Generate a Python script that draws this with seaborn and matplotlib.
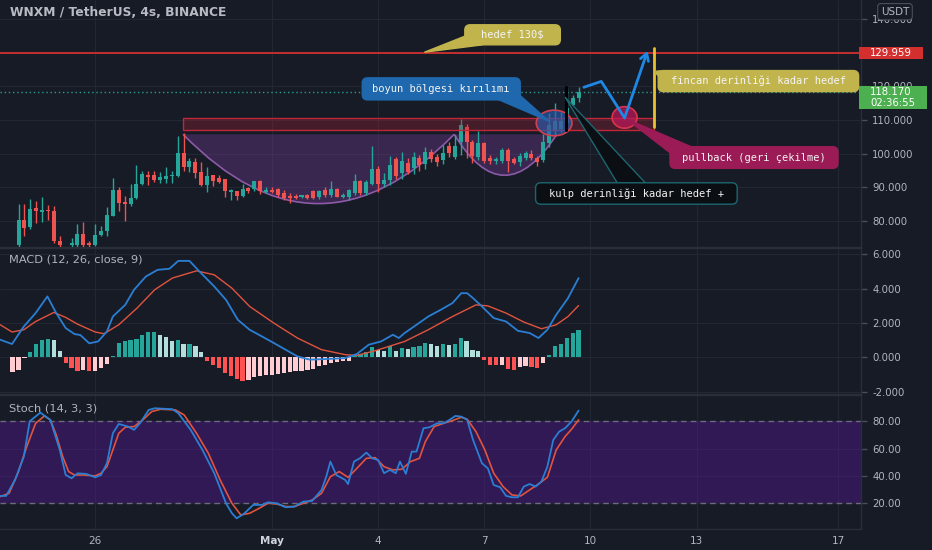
#!/usr/bin/env python3
"""WNXM/USDT 4h chart with cup-and-handle drawing, MACD and Stoch panels."""

import matplotlib
matplotlib.use("Agg")
import matplotlib.pyplot as plt
import matplotlib.transforms as mtransforms
import numpy as np
import pandas as pd
import seaborn as sns
from matplotlib.patches import Ellipse, FancyBboxPatch, PathPatch, Polygon, Rectangle
from matplotlib.path import Path
from matplotlib.ticker import FuncFormatter

# ---------------------------------------------------------------- data
START = "2021-04-23 20:00"  # first visible 4h candle

OPEN = [72.9, 80.4, 78.3, 83.8, 82.6, 83.4, 82.9, 74.2, 72.0, 72.8,
        73.0, 76.3, 73.5, 73.0, 75.8, 77.0, 81.6, 89.3, 85.8, 85.1,
        86.8, 91.0, 93.7, 93.7, 92.2, 92.4, 93.3, 93.5, 100.1, 96.0,
        97.4, 94.7, 90.8, 93.6, 92.7, 92.5, 88.5, 89.0, 87.5, 89.8,
        89.5, 91.8, 88.7, 89.3, 89.6, 88.3, 87.5, 87.5, 87.0, 87.6,
        88.8, 87.0, 89.3, 87.8, 89.5, 87.1, 87.1, 88.3, 91.8, 88.3,
        91.1, 95.4, 91.1, 92.3, 98.3, 94.2, 97.2, 95.7, 98.7, 96.8,
        100.5, 99.0, 98.0, 102.2, 99.0, 103.5, 108.0, 103.6, 99.1, 103.1,
        98.7, 97.7, 97.7, 101.1, 98.3, 97.4, 98.7, 100.0, 98.7, 98.2,
        103.1, 107.0, 107.2, 109.0, 114.4, 116.4]
HIGH = [85.1, 85.1, 86.5, 86.0, 87.1, 84.9, 84.6, 75.5, 72.2, 75.0,
        79.2, 79.6, 74.2, 79.0, 78.4, 84.1, 92.9, 90.0, 87.5, 91.1,
        96.7, 94.9, 94.9, 95.0, 94.6, 96.0, 95.0, 105.3, 106.1, 98.8,
        98.8, 97.4, 96.0, 93.7, 93.6, 92.5, 89.5, 89.0, 91.1, 90.1,
        92.0, 92.1, 90.0, 90.0, 89.9, 89.1, 88.3, 88.0, 87.8, 88.0,
        89.1, 89.3, 90.1, 91.8, 89.8, 88.2, 89.5, 94.0, 92.2, 92.3,
        102.3, 96.3, 94.4, 99.3, 99.0, 100.6, 98.8, 100.6, 99.6, 102.0,
        101.5, 100.0, 102.5, 103.5, 105.5, 110.3, 108.8, 104.0, 106.8, 103.5,
        99.6, 99.0, 101.6, 101.6, 99.0, 100.1, 100.8, 101.0, 99.4, 105.9,
        112.0, 114.9, 112.5, 119.5, 117.4, 119.9]
LOW = [71.5, 75.7, 77.7, 79.4, 79.7, 80.4, 73.5, 71.0, 70.0, 71.5,
       72.0, 72.0, 72.0, 72.5, 75.7, 75.7, 81.4, 82.9, 80.1, 84.4,
       86.6, 90.8, 90.8, 91.5, 91.3, 91.3, 91.3, 93.2, 94.9, 94.6,
       92.7, 90.5, 88.5, 90.3, 91.3, 87.1, 86.3, 86.3, 87.1, 88.3,
       88.8, 88.1, 88.3, 88.3, 87.1, 86.3, 85.5, 86.6, 86.8, 86.6,
       86.6, 86.6, 87.1, 87.0, 87.1, 86.8, 86.3, 87.8, 87.8, 87.8,
       90.8, 88.5, 90.1, 90.8, 92.5, 92.5, 94.0, 94.0, 94.9, 95.5,
       97.5, 96.3, 97.0, 99.0, 98.5, 99.6, 98.7, 97.2, 98.2, 97.2,
       96.8, 97.0, 97.2, 94.7, 96.8, 96.4, 98.0, 98.0, 96.4, 97.5,
       102.1, 105.6, 106.5, 107.5, 113.5, 115.4]
CLOSE = [80.4, 78.0, 83.7, 83.1, 83.4, 83.0, 74.0, 72.9, 71.0, 73.6,
         76.3, 73.0, 73.0, 76.0, 77.1, 81.9, 89.3, 85.5, 85.1, 86.8,
         91.1, 94.0, 93.2, 92.2, 93.2, 93.5, 93.6, 100.1, 95.9, 97.7,
         94.2, 90.8, 93.4, 92.0, 91.7, 88.8, 89.3, 87.3, 89.5, 89.0,
         91.8, 88.8, 89.2, 88.7, 87.8, 86.8, 86.9, 86.9, 87.6, 86.8,
         86.8, 89.0, 87.8, 89.5, 87.1, 87.8, 89.1, 91.8, 88.3, 91.5,
         95.4, 91.1, 92.3, 96.7, 93.5, 97.7, 94.7, 99.1, 96.7, 100.5,
         98.3, 97.5, 100.3, 100.2, 102.3, 108.5, 103.6, 99.3, 103.1, 97.7,
         97.7, 98.4, 101.1, 97.7, 97.2, 99.4, 100.3, 98.7, 97.4, 103.6,
         108.5, 109.8, 109.8, 113.5, 116.4, 118.17]

LAST_PRICE = 118.17
TARGET_PRICE = 129.959
COUNTDOWN = "02:36:55"

# MACD histogram, last value belongs to the last candle
MACD_HIST = [-0.85, -0.75, -0.05, 0.30, 0.80, 1.00, 1.10, 1.00, 0.35, -0.33,
             -0.62, -0.81, -0.72, -0.81, -0.81, -0.62, -0.39, 0.10, 0.83, 0.97,
             0.99, 1.07, 1.28, 1.47, 1.47, 1.32, 1.16, 0.97, 0.99, 0.78,
             0.80, 0.68, 0.31, -0.23, -0.43, -0.62, -0.91, -1.10, -1.26, -1.40,
             -1.30, -1.16, -1.07, -1.05, -1.00, -0.97, -0.91, -0.87, -0.81, -0.78,
             -0.72, -0.66, -0.52, -0.43, -0.33, -0.27, -0.23, -0.19, 0.06, 0.19,
             0.31, 0.58, 0.45, 0.39, 0.64, 0.35, 0.54, 0.50, 0.58, 0.64,
             0.83, 0.78, 0.64, 0.78, 0.70, 0.78, 1.12, 0.93, 0.45, 0.39,
             -0.14, -0.43, -0.47, -0.47, -0.66, -0.72, -0.58, -0.52, -0.58, -0.62,
             -0.33, 0.16, 0.64, 0.80, 1.12, 1.41, 1.61]

MACD_X = [-3.1, -1.1, 0.9, 2.9, 4.9, 6.4, 8.0, 9.5, 10.5, 12.0,
          13.5, 15.0, 16.0, 18.1, 19.6, 21.6, 23.6, 25.6, 27.1, 29.0,
          30.7, 33.2, 35.2, 37.2, 39.2, 41.3, 43.3, 45.3, 47.3, 49.4,
          52.4, 55.4, 57.4, 59.4, 61.5, 63.5, 64.5, 65.5, 67.5, 69.5,
          71.6, 73.6, 75.1, 76.1, 77.1, 78.6, 80.6, 82.7, 84.7, 86.7,
          88.2, 89.7, 91.2, 93.2, 95.0]
MACD_Y = [1.03, 0.78, 1.80, 2.58, 3.55, 2.58, 1.71, 1.36, 1.30, 0.82,
          0.93, 1.51, 2.38, 3.06, 3.94, 4.71, 5.10, 5.16, 5.62, 5.62,
          5.00, 4.13, 3.35, 2.19, 1.61, 1.22, 0.84, 0.45, 0.06, -0.13,
          -0.09, -0.04, 0.20, 0.74, 0.93, 1.32, 1.13, 1.42, 1.90, 2.38,
          2.77, 3.16, 3.74, 3.74, 3.45, 2.97, 2.29, 2.09, 1.55, 1.42,
          1.13, 1.61, 2.48, 3.45, 4.62]
SIGNAL_X = [-3.1, -1.1, 0.9, 2.9, 6.0, 8.0, 10.0, 13.0, 14.5, 17.0,
            20.1, 23.1, 26.1, 30.2, 33.2, 36.2, 39.2, 43.3, 47.3, 51.4,
            55.4, 57.4, 60.5, 65.5, 69.5, 73.6, 77.6, 79.6, 82.7, 85.7,
            88.7, 91.2, 93.2, 95.0]
SIGNAL_Y = [1.90, 1.48, 1.61, 2.09, 2.62, 2.33, 1.94, 1.48, 1.38, 1.90,
            2.87, 3.94, 4.62, 5.04, 4.81, 4.03, 2.97, 2.00, 1.13, 0.45,
            0.16, 0.12, 0.39, 0.93, 1.61, 2.38, 3.06, 3.00, 2.58, 2.06,
            1.67, 1.90, 2.38, 3.02]

K_X = [-3.1, -2.1, -0.6, 0.9, 1.9, 3.7, 5.4, 7.0, 8.0, 9.0,
       10.0, 11.5, 13.0, 14.0, 15.0, 16.0, 17.0, 18.6, 19.6, 20.6,
       22.1, 23.1, 26.1, 27.1, 29.2, 31.2, 33.2, 35.2, 36.2, 37.0,
       38.2, 39.8, 41.3, 42.3, 43.8, 45.3, 46.8, 48.3, 49.8, 51.4,
       52.2, 52.9, 53.9, 55.4, 55.9, 56.9, 57.9, 59.0, 60.0, 61.0,
       62.0, 63.0, 64.0, 64.7, 65.7, 66.7, 67.5, 68.7, 69.7, 71.0,
       72.1, 73.1, 74.1, 75.1, 76.1, 77.1, 78.6, 79.6, 80.6, 81.7,
       82.7, 83.7, 84.7, 85.7, 86.7, 87.7, 88.7, 89.7, 90.7, 91.7,
       92.7, 93.8, 95.0]
K_Y = [25.4, 25.4, 37.1, 54.1, 80.0, 86.3, 81.0, 59.0, 40.7, 38.3,
       41.9, 41.5, 39.0, 40.7, 49.3, 71.2, 78.0, 76.1, 73.7, 78.5,
       88.3, 89.5, 88.8, 85.9, 73.7, 59.0, 42.0, 20.0, 12.7, 9.0,
       12.2, 18.8, 18.8, 20.7, 20.0, 17.1, 17.6, 21.2, 21.7, 29.8,
       39.5, 50.5, 40.7, 37.1, 34.1, 50.5, 52.9, 57.1, 52.9, 51.7,
       42.0, 44.4, 42.0, 50.5, 41.5, 57.8, 57.8, 74.9, 75.6, 78.5,
       78.5, 81.0, 83.9, 83.4, 81.0, 66.3, 49.3, 45.6, 33.4, 31.7,
       25.4, 24.4, 24.4, 32.2, 34.1, 32.2, 35.9, 46.8, 66.3, 72.4,
       74.9, 79.8, 87.8]
D_X = [-3.1, -1.6, -0.1, 1.4, 2.9, 4.4, 5.4, 6.4, 7.5, 8.5,
       9.5, 11.0, 13.0, 14.0, 15.0, 16.0, 17.0, 18.1, 19.6, 21.1,
       22.6, 24.1, 26.6, 28.1, 30.2, 32.2, 34.2, 36.2, 37.7, 39.2,
       40.8, 42.3, 43.8, 45.3, 46.8, 48.3, 49.8, 51.4, 52.9, 54.4,
       55.9, 57.4, 59.0, 60.5, 62.0, 63.5, 65.0, 66.5, 68.0, 69.0,
       70.5, 72.1, 73.6, 75.1, 76.1, 77.6, 79.1, 80.6, 82.2, 83.7,
       85.2, 86.7, 88.2, 89.7, 91.2, 92.7, 93.8, 95.0]
D_Y = [24.9, 27.3, 42.0, 61.5, 78.5, 83.9, 81.0, 70.0, 54.1, 43.2,
       40.7, 40.7, 40.0, 42.0, 46.8, 59.0, 71.2, 75.6, 76.1, 81.0,
       87.1, 88.8, 88.3, 84.6, 71.2, 56.6, 37.1, 20.0, 11.5, 12.7,
       16.3, 20.0, 19.5, 17.6, 17.6, 20.0, 22.4, 27.3, 39.5, 43.2,
       39.0, 45.6, 52.9, 53.4, 46.8, 44.4, 44.9, 50.5, 52.9, 65.1,
       76.1, 78.5, 80.5, 82.9, 81.5, 72.4, 59.0, 42.0, 32.2, 26.1,
       25.4, 29.8, 34.1, 39.0, 59.0, 68.8, 74.1, 81.0]

DAY_TICKS = ["2021-04-26", "2021-05-01", "2021-05-04", "2021-05-07",
             "2021-05-10", "2021-05-13", "2021-05-17"]
DAY_LABELS = ["26", "May", "4", "7", "10", "13", "17"]
PRICE_TICKS = [80, 90, 100, 110, 120, 130, 140]
MACD_TICKS = [-2, 0, 2, 4, 6]
STOCH_TICKS = [20, 40, 60, 80]

# ---------------------------------------------------------------- drawings (bar index, price)
NECK_ZONE = (27.9, 107.8, 106.9, 110.6)          # x0, x1, y0, y1
CUP = [(27.9, 105.75), (50.85, 64.6), (73.9, 105.75)]   # quadratic bezier
HANDLE = [(73.9, 105.75), (82.3, 81.4), (91.3, 105.75)]
BREAK_CIRCLE = (90.85, 109.1, 6.06, 7.6)          # cx, cy, w, h
PULLBACK_CIRCLE = (102.8, 110.75, 4.24, 6.4)
PATH_X = [95.9, 98.85, 102.8, 106.7]
PATH_Y = [119.7, 121.45, 110.6, 130.5]
TARGET_BAR = (107.8, 108.0, 131.3)                # x, y0, y1
HANDLE_BAR = (92.8, 107.0, 119.8)

CALLOUTS = [
    # text, box (x0, x1, y0, y1), tail polygon, face, edge
    ("hedef 130$", (75.7, 91.9, 132.3, 138.25),
     [(68.85, 130.1), (75.9, 135.0), (78.7, 132.3)], "#c1b44c", None),
    ("boyun bölgesi kırılımı", (58.3, 85.1, 115.95, 122.5),
     [(81.2, 116.2), (85.0, 117.4), (90.0, 109.6)], "#1f68ad", None),
    ("fincan derinliği kadar hedef", (108.5, 142.5, 118.4, 124.66),
     [(107.8, 124.4), (108.9, 124.6), (109.2, 121.9)], "#c1b44c", None),
    ("pullback (geri çekilme)", (110.5, 139.0, 95.64, 102.06),
     [(103.1, 110.3), (110.7, 100.0), (114.3, 101.9)], "#9b1b56", None),
    ("kulp derinliği kadar hedef +", (87.7, 121.9, 85.0, 91.36),
     [(92.7, 116.8), (101.6, 91.2), (106.4, 91.2)], "#0b0f14", "#1d6670"),
]

# ---------------------------------------------------------------- style
BG = "#171b26"
GRID = "#232733"
SEP = "#2a2e39"
TXT = "#b2b5be"
UP = "#26a69a"
DOWN = "#ef5350"
BLUE = "#2a7fd4"
ORANGE = "#e2533e"

sns.set_style("dark", {"axes.facecolor": BG, "figure.facecolor": BG,
                       "grid.color": GRID, "axes.edgecolor": SEP})
plt.rcParams["font.family"] = ["DejaVu Sans"]

W, H = 932, 550
RIGHT = 861
XMIN, XMAX = -3.14, 142.9

fig = plt.figure(figsize=(W / 100, H / 100), dpi=100)
fig.patch.set_facecolor(BG)
ax_p = fig.add_axes([0, 1 - 247 / H, RIGHT / W, 247 / H])
ax_m = fig.add_axes([0, 1 - 394 / H, RIGHT / W, 146 / H])
ax_s = fig.add_axes([0, 1 - 529 / H, RIGHT / W, 134 / H])

start = pd.Timestamp(START)
day_pos = [(pd.Timestamp(d) - start) / pd.Timedelta(hours=4) for d in DAY_TICKS]


def style_axis(ax, ylim, yticks, fmt, hidden=()):
    ax.set_facecolor(BG)
    ax.set_xlim(XMIN, XMAX)
    ax.set_ylim(*ylim)
    ax.set_xticks(day_pos)
    ax.set_yticks(yticks)
    ax.yaxis.tick_right()
    # labels sitting under the price badges are not shown
    ax.yaxis.set_major_formatter(FuncFormatter(
        lambda v, _: "" if round(v) in hidden else fmt % v))
    ax.tick_params(axis="y", colors="#4a4e5a", labelcolor=TXT, labelsize=7.3,
                   length=4, width=1, pad=4)
    ax.tick_params(axis="x", length=0, labelbottom=False)
    ax.grid(True, color=GRID, lw=0.8)
    ax.set_axisbelow(True)
    for side, sp in ax.spines.items():
        sp.set_visible(side in ("right", "top", "bottom"))
        sp.set_color(SEP)
        sp.set_linewidth(1)


# ---------------------------------------------------------------- price panel
style_axis(ax_p, (72.3, 145.6), PRICE_TICKS, "%.3f", hidden=(130,))
ax_p.spines["top"].set_visible(False)

idx = np.arange(len(CLOSE))
o, h, l, c = map(np.array, (OPEN, HIGH, LOW, CLOSE))
cols = np.where(c >= o, UP, DOWN)

# cup and handle
for a, b, e in (CUP, HANDLE):
    fill = Path([a, b, e, a], [Path.MOVETO, Path.CURVE3, Path.CURVE3, Path.LINETO])
    ax_p.add_patch(PathPatch(fill, fc="#7b3fa0", alpha=0.34, ec="none", zorder=1))
    arc = Path([a, b, e], [Path.MOVETO, Path.CURVE3, Path.CURVE3])
    ax_p.add_patch(PathPatch(arc, fc="none", ec="#8c5aa8", lw=1.2, zorder=2))

ax_p.vlines(idx, l, h, colors=cols, lw=1, zorder=3)
ax_p.bar(idx, np.maximum(np.abs(c - o), 0.25), bottom=np.minimum(o, c),
         width=0.68, color=cols, lw=0, zorder=4)

x0, x1, y0, y1 = NECK_ZONE
ax_p.add_patch(Rectangle((x0, y0), x1 - x0, y1 - y0, fc="#b22234", alpha=0.3,
                         ec="none", zorder=5))
ax_p.add_patch(Rectangle((x0, y0), x1 - x0, y1 - y0, fc="none", ec="#c0283a",
                         lw=1, zorder=5))

ax_p.axhline(TARGET_PRICE, color="#e0302f", lw=1.2, zorder=6)
ax_p.axhline(LAST_PRICE, color="#2a9d8f", lw=1, ls=(0, (1, 2)), zorder=6)

cx, cy, cw, ch = BREAK_CIRCLE
ax_p.add_patch(Ellipse((cx, cy), cw, ch, fc="#2a5db0", alpha=0.65, ec="none", zorder=6))
ax_p.add_patch(Ellipse((cx, cy), cw, ch, fc="none", ec="#d04050", lw=1.2, zorder=6))
cx, cy, cw, ch = PULLBACK_CIRCLE
ax_p.add_patch(Ellipse((cx, cy), cw, ch, fc="#c2185b", alpha=0.7, ec="none", zorder=6))
ax_p.add_patch(Ellipse((cx, cy), cw, ch, fc="none", ec="#d8344e", lw=1.2, zorder=6))

xb, yb0, yb1 = HANDLE_BAR
ax_p.plot([xb, xb], [yb0, yb1], color="black", lw=2.2, zorder=7)
xt, yt0, yt1 = TARGET_BAR
ax_p.plot([xt, xt], [yt0, yt1], color="#e8c22c", lw=2, zorder=7)

ax_p.plot(PATH_X[:-1], PATH_Y[:-1], color="#1e88e5", lw=2, zorder=7,
          solid_capstyle="round")
ax_p.annotate("", xy=(PATH_X[-1], PATH_Y[-1]), xytext=(PATH_X[-2], PATH_Y[-2]),
              arrowprops=dict(arrowstyle="->,head_length=0.5,head_width=0.3",
                              color="#1e88e5", lw=2, shrinkA=0, shrinkB=0),
              zorder=7)

ASPECT = (1 / 3.363) / (1 / 5.89)
for text, (bx0, bx1, by0, by1), tail, fc, ec in CALLOUTS:
    ax_p.add_patch(Polygon(tail, closed=True, fc=fc, ec=ec or fc, lw=1, zorder=8))
    ax_p.add_patch(FancyBboxPatch((bx0, by0), bx1 - bx0, by1 - by0,
                                  boxstyle="round,pad=0,rounding_size=0.9",
                                  mutation_aspect=ASPECT, fc=fc, ec=ec or fc,
                                  lw=1, zorder=9))
    ax_p.text((bx0 + bx1) / 2, (by0 + by1) / 2, text, ha="center", va="center",
              color="#f4f4f4", fontsize=7.5, family="DejaVu Sans Mono", zorder=10)

# ---------------------------------------------------------------- MACD panel
style_axis(ax_m, (-2.13, 6.37), MACD_TICKS, "%.3f")
hist = np.array(MACD_HIST)
hist_idx = np.arange(len(CLOSE) - len(hist), len(CLOSE))
prev = np.concatenate([[hist[0]], hist[:-1]])
hist_cols = np.where(hist >= 0,
                     np.where(hist >= prev, "#26a69a", "#b2dfdb"),
                     np.where(hist >= prev, "#ffcdd2", "#ff5252"))
ax_m.bar(hist_idx, hist, width=0.72, color=hist_cols, lw=0, zorder=2)
sns.lineplot(data=pd.DataFrame({"bar": MACD_X, "value": MACD_Y}), x="bar", y="value",
             ax=ax_m, color=BLUE, lw=1.3, estimator=None, zorder=4)
sns.lineplot(data=pd.DataFrame({"bar": SIGNAL_X, "value": SIGNAL_Y}), x="bar", y="value",
             ax=ax_m, color=ORANGE, lw=1.0, estimator=None, zorder=3)
ax_m.set_xlabel("")
ax_m.set_ylabel("")
ax_m.text(0.011, 0.92, "MACD (12, 26, close, 9)", transform=ax_m.transAxes,
          color=TXT, fontsize=8.2, va="center", ha="left")

# ---------------------------------------------------------------- Stoch panel
style_axis(ax_s, (1.2, 99.2), STOCH_TICKS, "%.2f")
ax_s.axhspan(20, 80, fc="#541895", alpha=0.42, lw=0, zorder=1)
for lvl in (20, 80):
    ax_s.axhline(lvl, color="#6e6a7e", lw=1, ls=(0, (4, 3)), zorder=2)
sns.lineplot(data=pd.DataFrame({"bar": K_X, "value": K_Y}), x="bar", y="value",
             ax=ax_s, color=BLUE, lw=1.3, estimator=None, zorder=4)
sns.lineplot(data=pd.DataFrame({"bar": D_X, "value": D_Y}), x="bar", y="value",
             ax=ax_s, color=ORANGE, lw=1.2, estimator=None, zorder=3)
ax_s.set_xlabel("")
ax_s.set_ylabel("")
ax_s.text(0.011, 0.9, "Stoch (14, 3, 3)", transform=ax_s.transAxes,
          color=TXT, fontsize=8.2, va="center", ha="left")
ax_s.tick_params(axis="x", labelbottom=True, labelcolor=TXT, labelsize=7.5, pad=5)
ax_s.set_xticklabels(DAY_LABELS)
ax_s.get_xticklabels()[1].set_fontweight("bold")
ax_s.get_xticklabels()[1].set_color("#d1d4dc")

# ---------------------------------------------------------------- header and price labels
fig.text(10 / W, 1 - 12 / H, "WNXM / TetherUS, 4s, BINANCE", color="#b8bbc4",
         fontsize=8.8, fontweight="bold", va="center", ha="left")

blend = mtransforms.blended_transform_factory(fig.transFigure, ax_p.transData)
fig.add_artist(Rectangle((859 / W, TARGET_PRICE - 1.8), 64 / W, 3.6, transform=blend,
                         fc="#d32f2f", ec="none", zorder=20))
fig.text(870 / W, TARGET_PRICE, f"{TARGET_PRICE:.3f}", transform=blend, color="white",
         fontsize=7.3, va="center", ha="left", zorder=21)
fig.add_artist(Rectangle((859 / W, 113.2), 68 / W, 6.9, transform=blend,
                         fc="#4caf50", ec="none", zorder=20))
fig.text(870 / W, 118.25, f"{LAST_PRICE:.3f}", transform=blend, color="white",
         fontsize=7.3, va="center", ha="left", zorder=21)
fig.text(870 / W, 114.9, COUNTDOWN, transform=blend, color="white",
         fontsize=7.3, va="center", ha="left", zorder=21)
fig.text(895 / W, 1 - 11.7 / H, "USDT", color=TXT, fontsize=7.5, ha="center", va="center",
         zorder=21, bbox=dict(boxstyle="round,pad=0.3", fc=BG, ec="#4a4e59", lw=0.8))

fig.savefig("out.png", dpi=100, facecolor=BG)
